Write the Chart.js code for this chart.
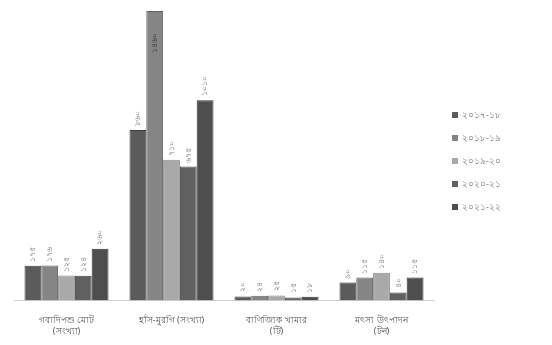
<!DOCTYPE html>
<html>
<head>
<meta charset="utf-8">
<script src="https://cdn.jsdelivr.net/npm/chart.js@4"></script>
<style>
  html, body { margin: 0; padding: 0; background: #fff; overflow: hidden; }
  #wrap { width: 552px; height: 345px; }
</style>
</head>
<body>
<div id="wrap"><canvas id="prodChart"></canvas></div>
<script>
const categories = [
  ['গবাদিপশু মোট', '(সংখ্যা)'],
  'হাঁস-মুরগি (সংখ্যা)',
  ['বাণিজ্যিক খামার', '(টি)'],
  ['মৎস্য উৎপাদন', '(টন)']
];
const years = ['২০১৭-১৮', '২০১৮-১৯', '২০১৯-২০', '২০২০-২১', '২০২১-২২'];
const fy1718 = [175, 860, 20, 90];
const fy1819 = [176, 1460, 24, 115];
const fy1920 = [125, 710, 25, 140];
const fy2021 = [124, 675, 15, 40];
const fy2122 = [260, 1010, 18, 115];

const barColors = ['#5b5b5b', '#858585', '#a9a9a9', '#606060', '#4e4e4e'];
const edgeColors = ['#3e3e3e', '#626262', '#8a8a8a', '#444444', '#333333'];

const bnDigits = ['০', '১', '২', '৩', '৪', '৫', '৬', '৭', '৮', '৯'];
const toBangla = (n) => String(n).replace(/[0-9]/g, (d) => bnDigits[d]);

// value written sideways on top of each bar
const barValueLabels = {
  id: 'barValueLabels',
  afterDatasetsDraw(chart) {
    const ctx = chart.ctx;
    ctx.save();
    ctx.font = '8px "Noto Sans", "DejaVu Sans", sans-serif';
    ctx.textBaseline = 'middle';
    chart.data.datasets.forEach((ds, i) => {
      chart.getDatasetMeta(i).data.forEach((bar, j) => {
        const txt = toBangla(ds.data[j]);
        const w = ctx.measureText(txt).width;
        ctx.save();
        ctx.translate(bar.x, bar.y);
        ctx.rotate(-Math.PI / 2);
        if (bar.y - w - 6 < chart.chartArea.top) {
          ctx.fillStyle = '#333';
          ctx.textAlign = 'right';
          ctx.fillText(txt, -22, 0);
        } else {
          ctx.fillStyle = '#777';
          ctx.textAlign = 'left';
          ctx.fillText(txt, 4, 0);
        }
        ctx.restore();
      });
    });
    ctx.restore();
  }
};

// vertical legend on the right side
const sideLegend = {
  id: 'sideLegend',
  afterDraw(chart) {
    const ctx = chart.ctx;
    ctx.save();
    ctx.font = '9px "Noto Sans", "DejaVu Sans", sans-serif';
    ctx.textBaseline = 'middle';
    chart.data.datasets.forEach((ds, i) => {
      const y = 115 + i * 23;
      ctx.fillStyle = ds.backgroundColor;
      ctx.fillRect(452, y - 3, 6, 6);
      ctx.fillStyle = '#777';
      ctx.fillText(ds.label, 462, y);
    });
    ctx.restore();
  }
};

const ctx = document.getElementById('prodChart').getContext('2d');
const prodChart = new Chart(ctx, {
  type: 'bar',
  data: {
    labels: categories,
    datasets: [fy1718, fy1819, fy1920, fy2021, fy2122].map((vals, i) => ({
      label: years[i],
      data: vals,
      backgroundColor: barColors[i],
      borderColor: edgeColors[i],
      borderWidth: 1,
      categoryPercentage: 0.8,
      barPercentage: 1.0
    }))
  },
  options: {
    responsive: true,
    maintainAspectRatio: false,
    animation: false,
    layout: { padding: { left: 14, right: 118, top: 7, bottom: 1 } },
    plugins: {
      legend: { display: false },
      tooltip: { enabled: false }
    },
    scales: {
      x: {
        grid: { display: false },
        border: { display: true, color: '#d0d0d0' },
        ticks: {
          color: '#555',
          font: { size: 9, family: '"Noto Sans", "DejaVu Sans", sans-serif' },
          maxRotation: 0,
          padding: 7
        }
      },
      y: {
        display: false,
        min: 0,
        max: 1480
      }
    }
  },
  plugins: [barValueLabels, sideLegend]
});
</script>
</body>
</html>
